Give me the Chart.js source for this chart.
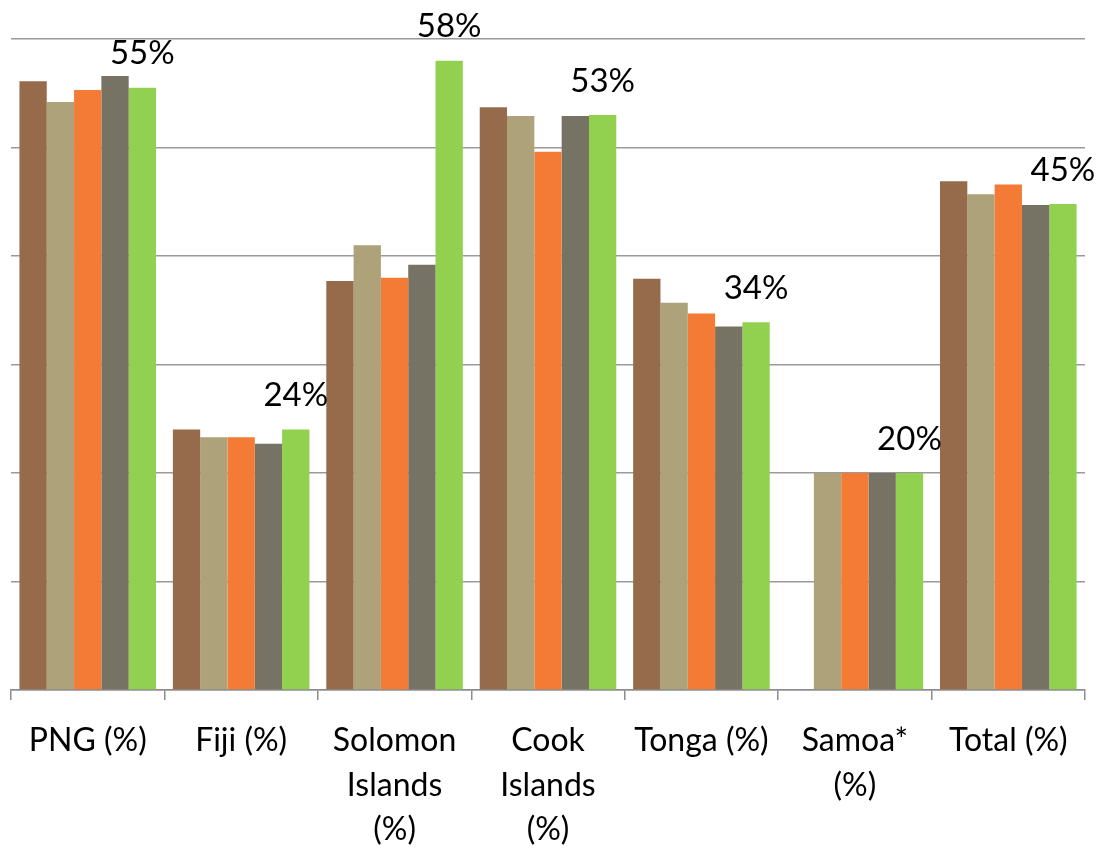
<!DOCTYPE html>
<html>
<head>
<meta charset="utf-8">
<script src="https://cdn.jsdelivr.net/npm/chart.js@4"></script>
<style>
  html, body { margin: 0; padding: 0; background: #fff; }
  #wrap { width: 1097px; height: 849px; }
</style>
</head>
<body>
<div id="wrap"><canvas id="barChart"></canvas></div>
<script>
// Data
const categories = [
  "PNG (%)", "Fiji (%)", ["Solomon", "Islands", "(%)"], ["Cook", "Islands", "(%)"],
  "Tonga (%)", ["Samoa*", "(%)"], "Total (%)"
];
const series1 = [56.1, 24.0, 37.7, 53.7, 37.9, null, 46.9];
const series2 = [54.2, 23.3, 41.0, 52.9, 35.7, 20, 45.7];
const series3 = [55.3, 23.3, 38.0, 49.6, 34.7, 20, 46.6];
const series4 = [56.6, 22.7, 39.2, 52.9, 33.5, 20, 44.7];
const series5 = [55.5, 24.0, 58.0, 53.0, 33.9, 20, 44.8];
const labels5 = ["55%", "24%", "58%", "53%", "34%", "20%", "45%"];
const colors = ["#956B4C", "#ADA27A", "#F37B35", "#767264", "#92D050"];

const FONT = "Lato, 'Open Sans', sans-serif";

// draws the value labels above the last series
const lastLabels = {
  id: "lastLabels",
  afterDatasetsDraw(chart) {
    const ctx = chart.ctx;
    const meta = chart.getDatasetMeta(4);
    ctx.save();
    ctx.font = "33px " + FONT;
    ctx.fillStyle = "#000";
    ctx.textAlign = "center";
    ctx.textBaseline = "middle";
    meta.data.forEach((bar, i) => {
      ctx.fillText(labels5[i], bar.x, bar.y - 34);
    });
    ctx.restore();
  }
};

const seriesData = [series1, series2, series3, series4, series5];

new Chart(document.getElementById("barChart").getContext("2d"), {
  type: "bar",
  data: {
    labels: categories,
    datasets: seriesData.map((d, i) => ({
      label: "S" + (i + 1),
      data: d,
      backgroundColor: colors[i],
      categoryPercentage: 0.89,
      barPercentage: 1.0
    }))
  },
  options: {
    responsive: true,
    maintainAspectRatio: false,
    animation: false,
    layout: { padding: { left: 11, right: 12, top: 39, bottom: 0 } },
    plugins: { legend: { display: false }, tooltip: { enabled: false } },
    scales: {
      x: {
        afterFit: (scale) => { scale.height = 159; },
        grid: { drawOnChartArea: false, drawTicks: true, tickLength: 10, color: "#8c8c8c", lineWidth: 1.5 },
        border: { display: true, color: "#8c8c8c", width: 1.5 },
        ticks: {
          color: "#000",
          font: { family: FONT, size: 32, lineHeight: 1.4 },
          padding: 18,
          maxRotation: 0,
          autoSkip: false
        }
      },
      y: {
        min: 0,
        max: 60,
        ticks: { display: false, stepSize: 10 },
        grid: { color: "#9a9a9a", lineWidth: 1.5, drawTicks: false },
        border: { display: false }
      }
    }
  },
  plugins: [lastLabels]
});
</script>
</body>
</html>
